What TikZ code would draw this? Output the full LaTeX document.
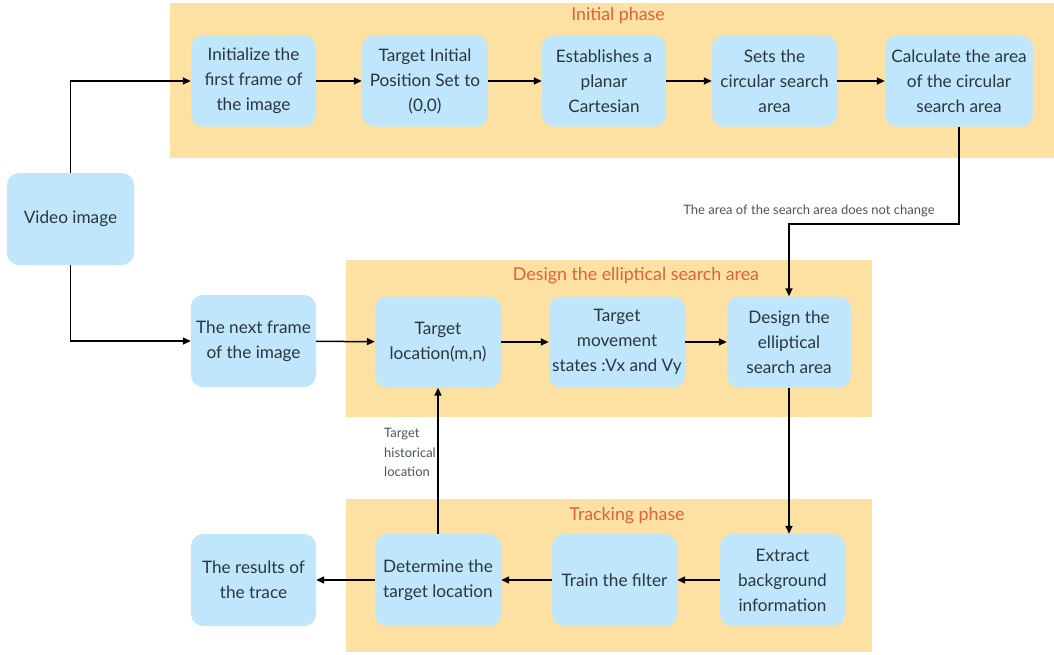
\documentclass[tikz,border=0pt]{standalone}
\usepackage{fontspec}
\setmainfont{Lato}
\usetikzlibrary{arrows.meta}
\definecolor{panel}{HTML}{FDE1A2}
\definecolor{boxc}{HTML}{BFE6FA}
\definecolor{titc}{HTML}{E0603C}
\definecolor{txtc}{HTML}{2A3640}
\tikzset{
  box/.style={fill=boxc, rounded corners=12pt, align=center, text=txtc,
    font=\fontsize{17.2pt}{25pt}\selectfont, inner sep=0pt, minimum height=91pt},
  panelbox/.style={fill=panel, draw=none},
  ptitle/.style={text=titc, font=\fontsize{17.8pt}{20pt}\selectfont, inner sep=0pt},
  arr/.style={line width=1.5pt, -{Triangle[length=8pt,width=7pt]}},
  small/.style={text=txtc!85, font=\fontsize{13pt}{19.5pt}\selectfont, align=left, inner sep=0pt}
}
\begin{document}
\begin{tikzpicture}[x=1pt,y=-1pt]
\useasboundingbox (0,0) rectangle (1054,654);
% panels
\fill[panelbox] (170,3) rectangle (1054,158);
\fill[panelbox] (346,260) rectangle (872,417);
\fill[panelbox] (346,499) rectangle (872,652);
\node[ptitle] (t1) at (618,15) {Initial phase};
\node[ptitle] (t2) at (636,276) {Design the elliptical search area};
\node[ptitle] (t3) at (627,516) {Tracking phase};
% nodes
\node[box, minimum width=125pt] (init) at (253.5,81) {Initialize the\\first frame of\\the image};
\node[box, minimum width=126pt] (pos) at (425,81) {Target Initial\\Position Set to\\(0,0)};
\node[box, minimum width=124pt] (cart) at (604,81) {Establishes a\\planar\\Cartesian};
\node[box, minimum width=125pt] (circ) at (774.5,81) {Sets the\\circular search\\area};
\node[box, minimum width=148pt] (calc) at (959,81) {Calculate the area\\of the circular\\search area};
\node[box, minimum width=127pt, minimum height=92pt] (video) at (70.5,219) {Video image};
\node[box, minimum width=125pt, minimum height=92pt] (next) at (253.5,341) {The next frame\\of the image};
\node[box, minimum width=126pt] (tloc) at (438,342) {Target\\location(m,n)};
\node[box, minimum width=136pt] (tmov) at (617,342) {Target\\movement\\states :Vx and Vy};
\node[box, minimum width=124pt] (dell) at (789,342) {Design the\\elliptical\\search area};
\node[box, minimum width=125pt, minimum height=92pt] (res) at (253.5,580) {The results of\\the trace};
\node[box, minimum width=126pt, minimum height=92pt] (det) at (438,580) {Determine the\\target location};
\node[box, minimum width=125pt, minimum height=92pt] (train) at (614.5,580) {Train the filter};
\node[box, minimum width=125pt, minimum height=92pt] (extr) at (782.5,580) {Extract\\background\\information};
% connectors
\draw[arr] (video.north) |- (init.west);
\draw[arr] (init) -- (pos);
\draw[arr] (pos) -- (cart);
\draw[arr] (cart) -- (circ);
\draw[arr] (circ) -- (calc);
\coordinate (k1) at (959,224);
\coordinate (k2) at (789,224);
\draw[arr] (calc.south) -- (k1) -- (k2) -- (dell.north);
\node[small, anchor=base] (lab1) at (809,214) {The area of the search area does not change};
\draw[arr] (video.south) |- (next.west);
\draw[arr] (next) -- (tloc);
\draw[arr] (tloc) -- (tmov);
\draw[arr] (tmov) -- (dell);
\draw[arr] (dell.south) -- (dell.south |- extr.north);
\draw[arr] (extr) -- (train);
\draw[arr] (train) -- (det);
\draw[arr] (det) -- (res);
\draw[arr] (det.north) -- (tloc.south);
\node[small, anchor=north west] (lab2) at (384,428) {Target\\historical\\location};
\end{tikzpicture}
\end{document}
